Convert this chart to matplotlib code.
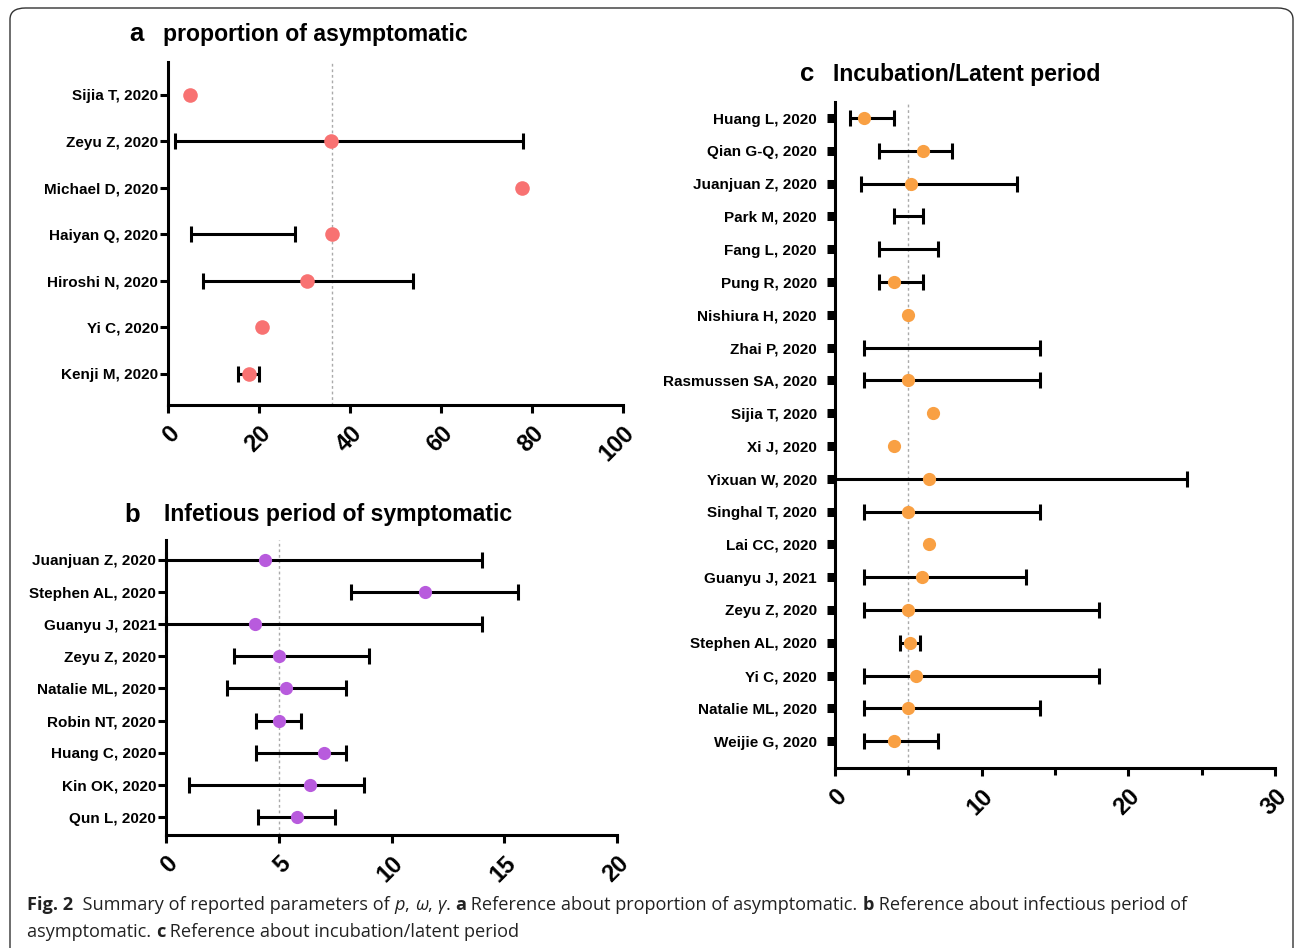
import numpy as np
import matplotlib
matplotlib.use('Agg')
import matplotlib.pyplot as plt
from matplotlib.patches import FancyBboxPatch

nan = np.nan

# panel a: proportion of asymptomatic (%)
a_names = ['Sijia T, 2020', 'Zeyu Z, 2020', 'Michael D, 2020', 'Haiyan Q, 2020',
           'Hiroshi N, 2020', 'Yi C, 2020', 'Kenji M, 2020']
a_point = [4.8, 35.8, 77.8, 36.0, 30.5, 20.7, 17.8]
a_low = [nan, 1.5, nan, 5.0, 7.7, nan, 15.4]
a_high = [nan, 78.0, nan, 28.0, 53.8, nan, 20.0]
a_ref = 36.0

# panel b: infectious period of symptomatic (days)
b_names = ['Juanjuan Z, 2020', 'Stephen AL, 2020', 'Guanyu J, 2021', 'Zeyu Z, 2020',
           'Natalie ML, 2020', 'Robin NT, 2020', 'Huang C, 2020', 'Kin OK, 2020',
           'Qun L, 2020']
b_point = [4.4, 11.5, 3.95, 5.0, 5.3, 5.0, 7.0, 6.4, 5.8]
b_low = [0.0, 8.2, 0.0, 3.0, 2.7, 4.0, 4.0, 1.0, 4.1]
b_high = [14.0, 15.6, 14.0, 9.0, 8.0, 6.0, 8.0, 8.8, 7.5]
b_ref = 5.0

# panel c: incubation / latent period (days)
c_names = ['Huang L, 2020', 'Qian G-Q, 2020', 'Juanjuan Z, 2020', 'Park M, 2020',
           'Fang L, 2020', 'Pung R, 2020', 'Nishiura H, 2020', 'Zhai P, 2020',
           'Rasmussen SA, 2020', 'Sijia T, 2020', 'Xi J, 2020', 'Yixuan W, 2020',
           'Singhal T, 2020', 'Lai CC, 2020', 'Guanyu J, 2021', 'Zeyu Z, 2020',
           'Stephen AL, 2020', 'Yi C, 2020', 'Natalie ML, 2020', 'Weijie G, 2020']
c_point = [2.0, 6.0, 5.2, nan, nan, 4.0, 5.0, nan, 5.0, 6.7, 4.0, 6.4,
           5.0, 6.4, 5.9, 5.0, 5.1, 5.5, 5.0, 4.0]
c_low = [1.0, 3.0, 1.8, 4.0, 3.0, 3.0, nan, 2.0, 2.0, nan, nan, 0.0,
         2.0, nan, 2.0, 2.0, 4.45, 2.0, 2.0, 2.0]
c_high = [4.0, 8.0, 12.4, 6.0, 7.0, 6.0, nan, 14.0, 14.0, nan, nan, 24.0,
          14.0, nan, 13.0, 18.0, 5.8, 18.0, 14.0, 7.0]
c_ref = 5.0

W, H = 1295, 948
LABEL_FONT = ['Liberation Sans Narrow', 'Liberation Sans', 'DejaVu Sans']
CAP_FONT = ['Open Sans', 'DejaVu Sans']

fig = plt.figure(figsize=(W / 100, H / 100), dpi=100)
fig.patch.set_facecolor('white')

# rounded frame around the figure
frame = FancyBboxPatch((10 / W, -0.05), 1283 / W, 1.05 - 8 / H,
                       boxstyle='round,pad=0,rounding_size=0.012',
                       transform=fig.transFigure, facecolor='none',
                       edgecolor='#333333', linewidth=1.0)
fig.patches.append(frame)


def px_axes(left, top, right, bottom):
    return fig.add_axes([left / W, 1 - bottom / H, (right - left) / W, (bottom - top) / H])


def forest(ax, names, point, low, high, ref, color, xmax, ylim, msize,
           ytick_w=2.2, ytick_len=6, ypad=1):
    n = len(names)
    y = np.arange(n)
    low = np.array(low, dtype=float)
    high = np.array(high, dtype=float)
    point = np.array(point, dtype=float)
    has_ci = ~np.isnan(low)
    mid = (low + high) / 2
    half = (high - low) / 2
    ax.axvline(ref, color='#aaaaaa', linestyle=(0, (2, 2)), linewidth=1.0, zorder=1)
    ax.errorbar(mid[has_ci], y[has_ci], xerr=half[has_ci], fmt='none', ecolor='black',
                elinewidth=2.2, capsize=5.5, capthick=2.2, zorder=2, clip_on=False)
    ok = ~np.isnan(point)
    ax.plot(point[ok], y[ok], 'o', color=color, markersize=msize, markeredgewidth=0,
            zorder=3, clip_on=False)
    ax.set_yticks(y)
    ax.set_yticklabels(names, fontsize=11, fontweight='bold', family=LABEL_FONT)
    ax.set_ylim(*ylim)
    ax.set_xlim(0, xmax)
    for s in ['top', 'right']:
        ax.spines[s].set_visible(False)
    for s in ['left', 'bottom']:
        ax.spines[s].set_linewidth(2.2)
    ax.tick_params(axis='y', length=ytick_len, width=ytick_w, pad=ypad)
    ax.tick_params(axis='x', length=6, width=2.2, pad=6)
    for lab in ax.get_xticklabels():
        lab.set_rotation(45)
        lab.set_ha('right')
        lab.set_va('top')
        lab.set_rotation_mode('anchor')
        lab.set_fontsize(17)
        lab.set_fontweight('bold')
        lab.set_family(LABEL_FONT)


# panel a
ax_a = px_axes(168, 62, 623, 405)
ax_a.set_xticks([0, 20, 40, 60, 80, 100])
forest(ax_a, a_names, a_point, a_low, a_high, a_ref, '#F87272', 100, (6.67, -0.71), 10.5)

# panel b
ax_b = px_axes(166, 540, 617, 835)
ax_b.set_xticks([0, 5, 10, 15, 20])
forest(ax_b, b_names, b_point, b_low, b_high, b_ref, '#B85BDD', 20, (8.56, -0.62), 9.5)

# panel c
ax_c = px_axes(835, 102, 1275, 768)
ax_c.set_xticks([0, 10, 20, 30])
ax_c.set_xticks([5, 15, 25], minor=True)
forest(ax_c, c_names, c_point, c_low, c_high, c_ref, '#F9A043', 30, (19.82, -0.49), 9.5,
       ytick_w=6.5, ytick_len=6, ypad=7)
ax_c.tick_params(axis='x', which='minor', length=5, width=2.2)

# panel titles
def panel_title(letter, lx, text, tx, ty):
    fig.text(lx / W, 1 - ty / H, letter, fontsize=18.5, fontweight='bold',
             family=['Liberation Sans', 'DejaVu Sans'], va='center', ha='left')
    fig.text(tx / W, 1 - ty / H, text, fontsize=16.6, fontweight='bold',
             family=['Liberation Sans', 'DejaVu Sans'], va='center', ha='left')


panel_title('a', 129, 'proportion of asymptomatic', 163, 34)
panel_title('b', 124, 'Infetious period of symptomatic', 164, 515)
panel_title('c', 800, 'Incubation/Latent period', 833, 74)

# caption, built from pieces so bold and italic parts sit inline
cap_lines = [
    [('Fig. 2', 'bold', 'normal'), ('  Summary of reported parameters of ', 'normal', 'normal'),
     ('p', 'normal', 'italic'), (', ', 'normal', 'normal'), ('ω', 'normal', 'italic'),
     (', ', 'normal', 'normal'), ('γ', 'normal', 'italic'), ('. ', 'normal', 'normal'),
     ('a', 'bold', 'normal'), (' Reference about proportion of asymptomatic. ', 'normal', 'normal'),
     ('b', 'bold', 'normal'), (' Reference about infectious period of', 'normal', 'normal')],
    [('asymptomatic. ', 'normal', 'normal'), ('c', 'bold', 'normal'),
     (' Reference about incubation/latent period', 'normal', 'normal')],
]
cap_y = [905, 932]

renderer = fig.canvas.get_renderer()
for line, yy in zip(cap_lines, cap_y):
    x = 27
    for txt, weight, style in line:
        t = fig.text(x / W, 1 - yy / H, txt, fontsize=13.1, fontweight=weight, fontstyle=style,
                     family=CAP_FONT, va='center', ha='left', color='#222222')
        bb = t.get_window_extent(renderer=renderer)
        x += bb.width

fig.savefig('out.png', dpi=100)
